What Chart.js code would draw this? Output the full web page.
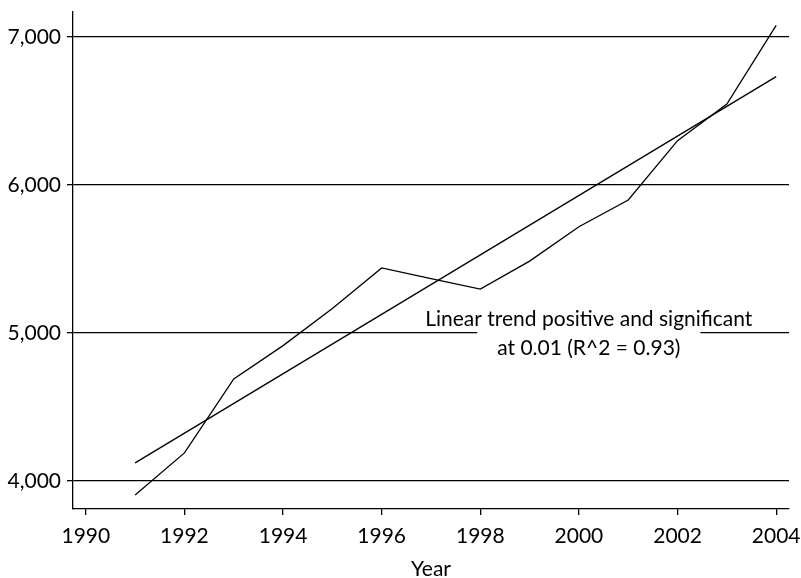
<!DOCTYPE html>
<html>
<head>
<meta charset="utf-8">
<script src="https://cdn.jsdelivr.net/npm/chart.js@4.4.1/dist/chart.umd.min.js"></script>
<style>
  html, body { margin: 0; padding: 0; background: #fff; }
</style>
</head>
<body>
<canvas id="trendChart" width="801" height="578"></canvas>
<script>
const ctx = document.getElementById("trendChart");

const years = [1991, 1992, 1993, 1994, 1995, 1996, 1997, 1998, 1999, 2000, 2001, 2002, 2003, 2004];
const values = [3905, 4190, 4690, 4915, 5165, 5440, 5368, 5297, 5486, 5718, 5899, 6300, 6547, 7079];
const trendYears = [1991, 2004];
const trendValues = [4123, 6732];
const xTicks = [1990, 1992, 1994, 1996, 1998, 2000, 2002, 2004];
const yTicks = [4000, 5000, 6000, 7000];
const xTitle = "Year";
const noteLines = ["Linear trend positive and significant", "at 0.01 (R^2 = 0.93)"];

Chart.defaults.font.family = "Lato";
Chart.defaults.font.size = 21;
Chart.defaults.color = "#000";

// white box + text for the trend note
const notePlugin = {
  id: "note",
  beforeDatasetsDraw(chart) {
    const c = chart.ctx;
    const x = chart.scales.x.getPixelForValue(2000.2);
    const y = chart.scales.y.getPixelForValue(5000);
    c.save();
    c.font = "21px Lato";
    const w = c.measureText(noteLines[1]).width;
    c.fillStyle = "#fff";
    c.fillRect(x - w / 2 - 20, y - 4, w + 40, 32);
    c.restore();
  },
  afterDatasetsDraw(chart) {
    const c = chart.ctx;
    const x = chart.scales.x.getPixelForValue(2000.2);
    const y = chart.scales.y.getPixelForValue(5000);
    c.save();
    c.font = "21px Lato";
    c.fillStyle = "#000";
    c.textAlign = "center";
    c.textBaseline = "alphabetic";
    c.fillText(noteLines[0], x, y - 7);
    c.fillText(noteLines[1], x, y + 22);
    c.restore();
  },
};

new Chart(ctx, {
  type: "line",
  data: {
    datasets: [
      {
        data: years.map((yr, i) => ({ x: yr, y: values[i] })),
        borderColor: "#000",
        borderWidth: 1.3,
        pointRadius: 0,
        tension: 0,
      },
      {
        data: trendYears.map((yr, i) => ({ x: yr, y: trendValues[i] })),
        borderColor: "#000",
        borderWidth: 1.3,
        pointRadius: 0,
        tension: 0,
      },
    ],
  },
  options: {
    responsive: false,
    animation: false,
    layout: { padding: { top: 12, right: 12, left: 0, bottom: 0 } },
    plugins: {
      legend: { display: false },
      tooltip: { enabled: false },
    },
    scales: {
      x: {
        type: "linear",
        min: 1989.74,
        max: 2004.26,
        afterBuildTicks: (scale) => {
          scale.ticks = xTicks.map((v) => ({ value: v }));
        },
        afterFit: (scale) => {
          scale.height = 69;
          scale.paddingLeft = 0;
          scale.paddingRight = 0;
        },
        ticks: {
          padding: 9,
          maxRotation: 0,
          autoSkip: false,
          callback: (v) => String(v),
        },
        grid: {
          drawOnChartArea: false,
          drawTicks: true,
          tickLength: 6,
          color: "#000",
          lineWidth: 1.3,
        },
        border: { display: true, color: "#000", width: 1.3 },
        title: {
          display: true,
          text: xTitle,
          font: { size: 21 },
          padding: { top: 0, bottom: -4 },
        },
      },
      y: {
        min: 3811,
        max: 7169,
        afterBuildTicks: (scale) => {
          scale.ticks = yTicks.map((v) => ({ value: v }));
        },
        afterFit: (scale) => {
          scale.width = 73;
          scale.paddingTop = 0;
          scale.paddingBottom = 0;
        },
        ticks: {
          padding: 6,
          callback: (v) => v.toLocaleString("en-US"),
        },
        grid: {
          drawOnChartArea: true,
          drawTicks: true,
          tickLength: 6,
          color: "#000",
          lineWidth: 1.3,
        },
        border: { display: true, color: "#000", width: 1.3 },
      },
    },
  },
  plugins: [notePlugin],
});
</script>
</body>
</html>
